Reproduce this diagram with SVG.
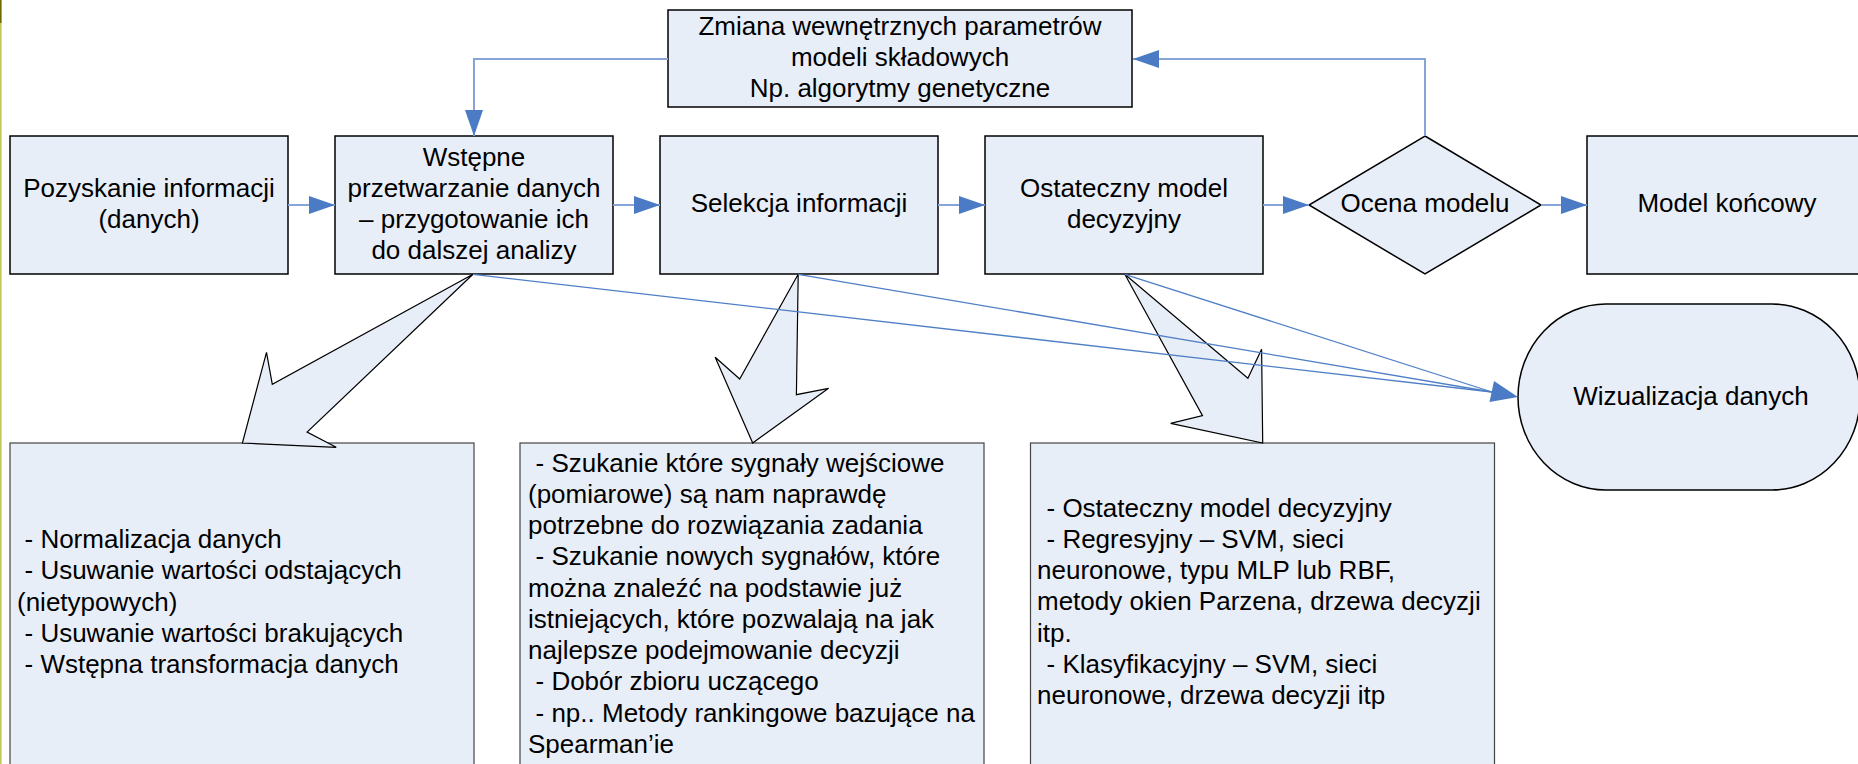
<svg xmlns="http://www.w3.org/2000/svg" width="1858" height="764" viewBox="0 0 1858 764">
<style>
.box{fill:#e8eef8;stroke:#000;stroke-width:1.5}
.lbox{fill:#e8eef8;stroke:#444;stroke-width:1.2}
.blk{fill:#e8eef8;stroke:#000;stroke-width:1.2;stroke-linejoin:miter}
.t{font-family:"Liberation Sans",Arial,sans-serif;font-size:26px;fill:#000}
.c{text-anchor:middle}
.con{fill:none;stroke:#86a4d6;stroke-width:2}
.diag{fill:none;stroke:#4f7fc6;stroke-width:1.3}
.ah{fill:#4a7bc4}
</style>
<defs>
<marker id="arr" markerUnits="userSpaceOnUse" markerWidth="26" markerHeight="18" refX="26" refY="9" orient="auto">
<path d="M0,0 L26,9 L0,18 Z" fill="#4a7bc4"/>
</marker>
</defs>
<rect x="0" y="0" width="1.6" height="23" fill="#6e6a00"/>
<rect x="0" y="23" width="1.6" height="741" fill="#c4c85a"/>

<g id="zmiana">
<rect class="box" x="668" y="10" width="464" height="97"/>
<text class="t c" x="900" y="35">Zmiana wewnętrznych parametrów</text>
<text class="t c" x="900" y="66">modeli składowych</text>
<text class="t c" x="900" y="97">Np. algorytmy genetyczne</text>
</g>
<g id="pozyskanie">
<rect class="box" x="10" y="136" width="278" height="138"/>
<text class="t c" x="149" y="197">Pozyskanie informacji</text>
<text class="t c" x="149" y="228">(danych)</text>
</g>
<g id="wstepne">
<rect class="box" x="335" y="136" width="278" height="138"/>
<text class="t c" x="474" y="166">Wstępne</text>
<text class="t c" x="474" y="197">przetwarzanie danych</text>
<text class="t c" x="474" y="228">– przygotowanie ich</text>
<text class="t c" x="474" y="259">do dalszej analizy</text>
</g>
<g id="selekcja">
<rect class="box" x="660" y="136" width="278" height="138"/>
<text class="t c" x="799" y="212">Selekcja informacji</text>
</g>
<g id="ostateczny">
<rect class="box" x="985" y="136" width="278" height="138"/>
<text class="t c" x="1124" y="197">Ostateczny model</text>
<text class="t c" x="1124" y="228">decyzyjny</text>
</g>
<g id="ocena">
<polygon class="box" points="1425,136 1541,205 1425,274 1309,205"/>
<text class="t c" x="1425" y="212">Ocena modelu</text>
</g>
<g id="koncowy">
<rect class="box" x="1587" y="136" width="280" height="138"/>
<text class="t c" x="1727" y="212">Model końcowy</text>
</g>
<g id="wizualizacja">
<path class="box" d="M1606,304 L1772,304 A88,93 0 0 1 1772,490 L1606,490 A88,93 0 0 1 1606,304 Z"/>
<text class="t c" x="1691" y="405">Wizualizacja danych</text>
</g>

<g id="przetwarzanie-opis">
<rect class="lbox" x="10" y="443" width="464" height="330"/>
<text class="t" x="24.5" y="548">- Normalizacja danych</text>
<text class="t" x="24.5" y="579">- Usuwanie wartości odstających</text>
<text class="t" x="17" y="611">(nietypowych)</text>
<text class="t" x="24.5" y="642">- Usuwanie wartości brakujących</text>
<text class="t" x="24.5" y="673">- Wstępna transformacja danych</text>
</g>
<g id="selekcja-opis">
<rect class="lbox" x="520" y="443" width="464" height="330"/>
<text class="t" x="535.5" y="472">- Szukanie które sygnały wejściowe</text>
<text class="t" x="528" y="503">(pomiarowe) są nam naprawdę</text>
<text class="t" x="528" y="534">potrzebne do rozwiązania zadania</text>
<text class="t" x="535.5" y="565">- Szukanie nowych sygnałów, które</text>
<text class="t" x="528" y="597">można znaleźć na podstawie już</text>
<text class="t" x="528" y="628">istniejących, które pozwalają na jak</text>
<text class="t" x="528" y="659">najlepsze podejmowanie decyzji</text>
<text class="t" x="535.5" y="690">- Dobór zbioru uczącego</text>
<text class="t" x="535.5" y="722">- np.. Metody rankingowe bazujące na</text>
<text class="t" x="528" y="753">Spearman’ie</text>
</g>
<g id="model-opis">
<rect class="lbox" x="1030.5" y="443" width="464" height="330"/>
<text class="t" x="1046.5" y="517">- Ostateczny model decyzyjny</text>
<text class="t" x="1046.5" y="548">- Regresyjny – SVM, sieci</text>
<text class="t" x="1037" y="579">neuronowe, typu MLP lub RBF,</text>
<text class="t" x="1037" y="610">metody okien Parzena, drzewa decyzji</text>
<text class="t" x="1037" y="642">itp.</text>
<text class="t" x="1046.5" y="673">- Klasyfikacyjny – SVM, sieci</text>
<text class="t" x="1037" y="704">neuronowe, drzewa decyzji itp</text>
</g>

<g id="block-arrows">
<polygon class="blk" points="473,274.3 272.3,384.3 266.5,352.3 242.4,443 336.2,447.3 307.1,432"/>
<polygon class="blk" points="798.2,274.3 739.7,379 715.2,357.3 752.7,443 828.6,388.3 796.4,394.7"/>
<polygon class="blk" points="1124.8,274.3 1202.5,415.7 1170.7,423.3 1262.7,443 1261.6,349.3 1247.9,378.3"/>
</g>

<g id="connectors">
<line class="con" x1="288" y1="205" x2="335" y2="205" marker-end="url(#arr)"/>
<line class="con" x1="613" y1="205" x2="660" y2="205" marker-end="url(#arr)"/>
<line class="con" x1="938" y1="205" x2="985" y2="205" marker-end="url(#arr)"/>
<line class="con" x1="1263" y1="205" x2="1309" y2="205" marker-end="url(#arr)"/>
<line class="con" x1="1541" y1="205" x2="1587" y2="205" marker-end="url(#arr)"/>
<polyline class="con" points="1425,136 1425,59 1133,59" marker-end="url(#arr)"/>
<polyline class="con" points="668,59 474,59 474,136" marker-end="url(#arr)"/>
<line class="diag" x1="473" y1="274.3" x2="1492" y2="392"/>
<line class="diag" x1="798.2" y1="274.3" x2="1492" y2="392"/>
<line class="diag" x1="1124.8" y1="274.3" x2="1492" y2="392"/>
<polygon class="ah" points="1518,397 1494,381 1489.5,402"/>
</g>
</svg>
